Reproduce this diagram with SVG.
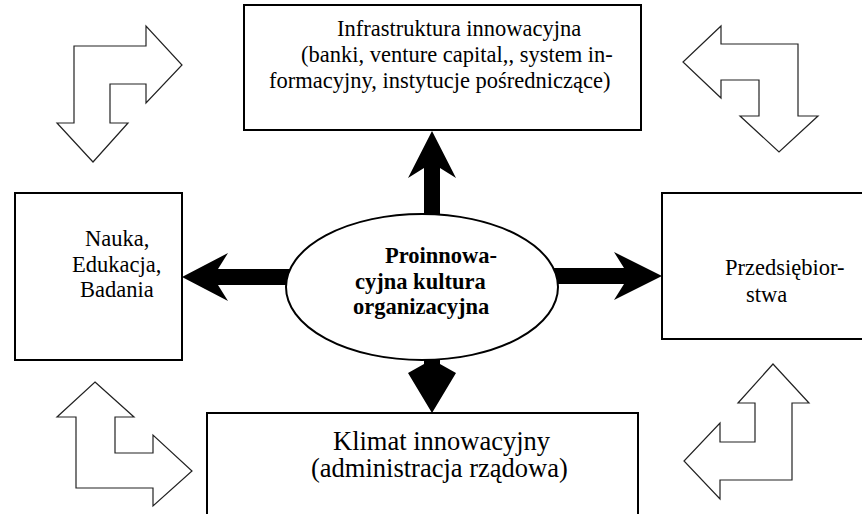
<svg xmlns="http://www.w3.org/2000/svg" width="862" height="514" viewBox="0 0 862 514">
<style>
.box{fill:#fff;stroke:#000;stroke-width:2}
.t{font-family:"Liberation Serif","Times New Roman",serif;font-size:22.5px;fill:#000}
.tb{font-family:"Liberation Serif","Times New Roman",serif;font-size:22.5px;font-weight:bold;fill:#000}
.tl{font-family:"Liberation Serif","Times New Roman",serif;font-size:26.5px;fill:#000}
.hollow{fill:#fff;stroke:#222;stroke-width:1.2;stroke-linejoin:miter}
.solid{fill:#000;stroke:none}
</style>
<rect width="862" height="514" fill="#fff"/>
<g id="connectors">
<polygon class="solid" points="432,131 456,178 440,168 440,230 424,230 424,168 408,178"/>
<polygon class="solid" points="182,277 228,253 218,269 300,269 300,285 218,285 228,301"/>
<polygon class="solid" points="662,276 614,252 624,268 545,268 545,284 624,284 614,300"/>
<polygon class="solid" points="432,413 456,373 440,364 440,345 424,345 424,364 408,373"/>
<polygon class="hollow" points="74,46 146,46 146,26 182,65 146,103 146,84 110,84 110,123 128,123 93,162 57,123 74,123"/>
<polygon class="hollow" points="798,44 721,44 721,26 683,62 721,98 721,80 759,80 759,116 740,116 779,152 818,116 798,116"/>
<polygon class="hollow" points="95,382 134,417 115,417 115,453 153,453 153,435 192,471 153,506 153,488 76,488 76,417 57,417"/>
<polygon class="hollow" points="773,364 809,403 792,403 792,480 720,480 720,499 684,461 720,423 720,442 755,442 755,403 738,403"/>
</g>
<g id="infrastruktura">
<rect class="box" x="244" y="5" width="397" height="125"/>
<text class="t" x="337" y="36">Infrastruktura innowacyjna</text>
<text class="t" x="301" y="62">(banki, venture capital,, system in-</text>
<text class="t" x="269" y="88">formacyjny, instytucje pośredniczące)</text>
</g>
<g id="nauka">
<rect class="box" x="15" y="193" width="167" height="167"/>
<text class="t" x="85" y="246">Nauka,</text>
<text class="t" x="72" y="272">Edukacja,</text>
<text class="t" x="80" y="297">Badania</text>
</g>
<g id="przedsiebiorstwa">
<rect class="box" x="662" y="193" width="220" height="146"/>
<text class="t" x="725" y="275">Przedsiębior-</text>
<text class="t" x="746" y="302">stwa</text>
</g>
<g id="klimat">
<rect class="box" x="207" y="413" width="431" height="130"/>
<text class="tl" x="333" y="450">Klimat innowacyjny</text>
<text class="tl" x="311" y="477">(administracja rządowa)</text>
</g>
<g id="kultura">
<ellipse class="box" cx="422" cy="287" rx="136" ry="73"/>
<text class="tb" x="385" y="263">Proinnowa-</text>
<text class="tb" x="355" y="289">cyjna kultura</text>
<text class="tb" x="353" y="314">organizacyjna</text>
</g>
</svg>
